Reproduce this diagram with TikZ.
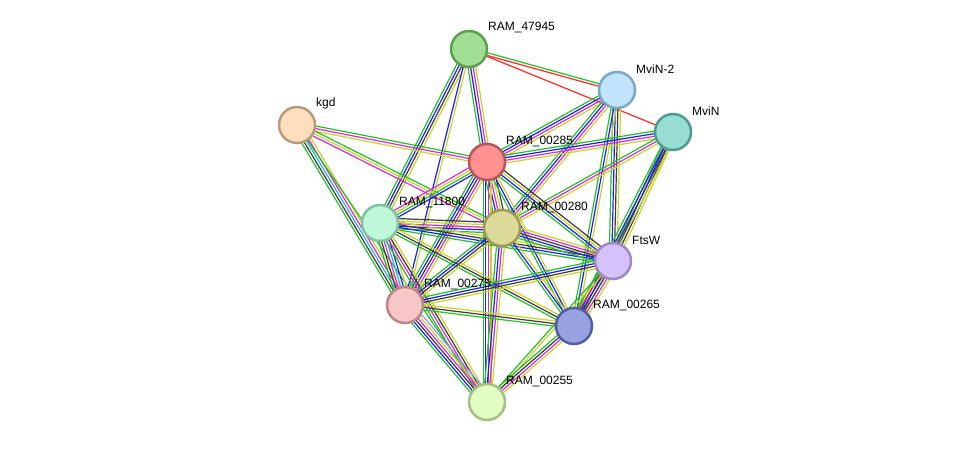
\documentclass[tikz,border=0pt]{standalone}
\usepackage{fontspec}
\setmainfont{Liberation Sans}
\usetikzlibrary{calc,backgrounds}
\definecolor{eG}{RGB}{40,190,40}
\definecolor{eY}{RGB}{200,212,40}
\definecolor{eM}{RGB}{220,40,220}
\definecolor{eB}{RGB}{30,30,240}
\definecolor{eK}{RGB}{60,60,60}
\definecolor{eC}{RGB}{40,180,230}
\definecolor{eR}{RGB}{255,40,40}
\definecolor{eL}{RGB}{150,150,240}
\tikzset{
  prot/.style={circle,minimum size=36pt,inner sep=0pt,line width=2.5pt},
  lab/.style={anchor=west,font=\fontsize{12}{14}\selectfont,inner sep=0pt,text=black},
  ln/.style={line width=1.2pt}
}
\newcommand\bundle[3]{%
  \gdef\nb{0}%
  \foreach \c in {#3}{\xdef\nb{\the\numexpr\nb+1\relax}}%
  \foreach \c [count=\i] in {#3}{%
    \pgfmathsetmacro\off{(\i-(\nb+1)/2)*2.6}%
    \draw[ln,\c] ($(#1.center)!\off pt!90:(#2.center)$) -- ($(#2.center)!\off pt!-90:(#1.center)$);
  }%
}
\begin{document}
\begin{tikzpicture}[x=1pt,y=-1pt]
\useasboundingbox (0,0) rectangle (976,448);
% nodes
\node[prot,fill={rgb,255:red,160;green,223;blue,146},draw={rgb,255:red,94;green,158;blue,80}] (a47945) at (469,49) {};
\node[prot,fill={rgb,255:red,193;green,228;blue,250},draw={rgb,255:red,123;green,168;blue,196}] (mvn2) at (617,90) {};
\node[prot,fill={rgb,255:red,152;green,221;blue,211},draw={rgb,255:red,78;green,154;blue,142}] (mvn) at (673,132) {};
\node[prot,fill={rgb,255:red,253;green,223;blue,192},draw={rgb,255:red,184;green,155;blue,122}] (kgd) at (297,125) {};
\node[prot,fill={rgb,255:red,255;green,145;blue,145},draw={rgb,255:red,184;green,86;blue,86}] (a285) at (487,162) {};
\node[prot,fill={rgb,255:red,191;green,248;blue,217},draw={rgb,255:red,130;green,194;blue,160}] (a11800) at (380,223) {};
\node[prot,fill={rgb,255:red,220;green,219;blue,154},draw={rgb,255:red,158;green,156;blue,84}] (a280) at (502,228) {};
\node[prot,fill={rgb,255:red,212;green,192;blue,250},draw={rgb,255:red,157;green,136;blue,194}] (ftsw) at (613,261) {};
\node[prot,fill={rgb,255:red,247;green,198;blue,198},draw={rgb,255:red,184;green,135;blue,135}] (a275) at (405,305) {};
\node[prot,fill={rgb,255:red,151;green,162;blue,222},draw={rgb,255:red,81;green,95;blue,160}] (a265) at (574,326) {};
\node[prot,fill={rgb,255:red,226;green,253;blue,195},draw={rgb,255:red,166;green,189;blue,131}] (a255) at (487,402) {};
% labels
\node[lab] (l47945) at (488,27) {RAM\_47945};
\node[lab] (lmvn2) at (636,69) {MviN-2};
\node[lab] (lmvn) at (692,111) {MviN};
\node[lab] (lkgd) at (316,103) {kgd};
\node[lab] (l285) at (506,141) {RAM\_00285};
\node[lab] (l11800) at (399,202) {RAM\_11800};
\node[lab] (l280) at (521,207) {RAM\_00280};
\node[lab] (lftsw) at (632,240) {FtsW};
\node[lab] (l275) at (424,284) {RAM\_00275};
\node[lab] (l265) at (593,305) {RAM\_00265};
\node[lab] (l255) at (506,381) {RAM\_00255};
% edges
\begin{scope}[on background layer]
\fill[white] (0,0) rectangle (976,448);
\bundle{a47945}{mvn2}{eR,eG}
\bundle{a47945}{mvn}{eR}
\bundle{a47945}{a285}{eG,eB,eM,eY}
\bundle{a47945}{a11800}{eG,eB,eK,eY}
\bundle{a47945}{a275}{eB,eY}
\bundle{kgd}{a285}{eY,eM,eG}
\bundle{kgd}{a280}{eM,eY,eG}
\bundle{kgd}{a275}{eG,eK,eC,eM,eY}
\bundle{kgd}{a255}{eG}
\bundle{mvn2}{a285}{eG,eB,eM,eY}
\bundle{mvn2}{a280}{eG,eB,eM,eY}
\bundle{mvn2}{ftsw}{eG,eB,eK,eY}
\bundle{mvn2}{a265}{eG,eB,eY}
\bundle{mvn}{a285}{eG,eB,eM,eY}
\bundle{mvn}{a280}{eG,eM,eY}
\bundle{mvn}{ftsw}{eG,eB,eK,eY}
\bundle{mvn}{a265}{eG,eB,eK,eY}
\bundle{a285}{a11800}{eM,eY,eG,eB}
\bundle{a285}{a280}{eG,eB,eM,eY,eK}
\bundle{a285}{ftsw}{eG,eB,eY,eK}
\bundle{a285}{a275}{eG,eB,eK,eM,eY}
\bundle{a285}{a265}{eG,eB,eY}
\bundle{a285}{a255}{eG,eB,eM,eY}
\bundle{a11800}{a280}{eG,eB,eM,eY,eK}
\bundle{a11800}{ftsw}{eG,eB,eK,eY}
\bundle{a11800}{a275}{eG,eK,eM,eC,eB,eY}
\bundle{a11800}{a265}{eG,eK,eY}
\bundle{a11800}{a255}{eG,eM,eK,eY}
\bundle{a280}{ftsw}{eG,eB,eK,eM,eY}
\bundle{a280}{a275}{eG,eB,eK,eY}
\bundle{a280}{a265}{eG,eB,eY}
\bundle{a280}{a255}{eG,eB,eM,eY}
\bundle{ftsw}{a275}{eG,eB,eK,eY}
\bundle{ftsw}{a265}{eG,eR,eB,eK,eM,eY}
\bundle{ftsw}{a255}{eG,eY}
\bundle{a275}{a265}{eG,eK,eY}
\bundle{a275}{a255}{eG,eB,eK,eM,eY,eL}
\bundle{a265}{a255}{eG,eK,eM,eY}
\end{scope}
\end{tikzpicture}
\end{document}
